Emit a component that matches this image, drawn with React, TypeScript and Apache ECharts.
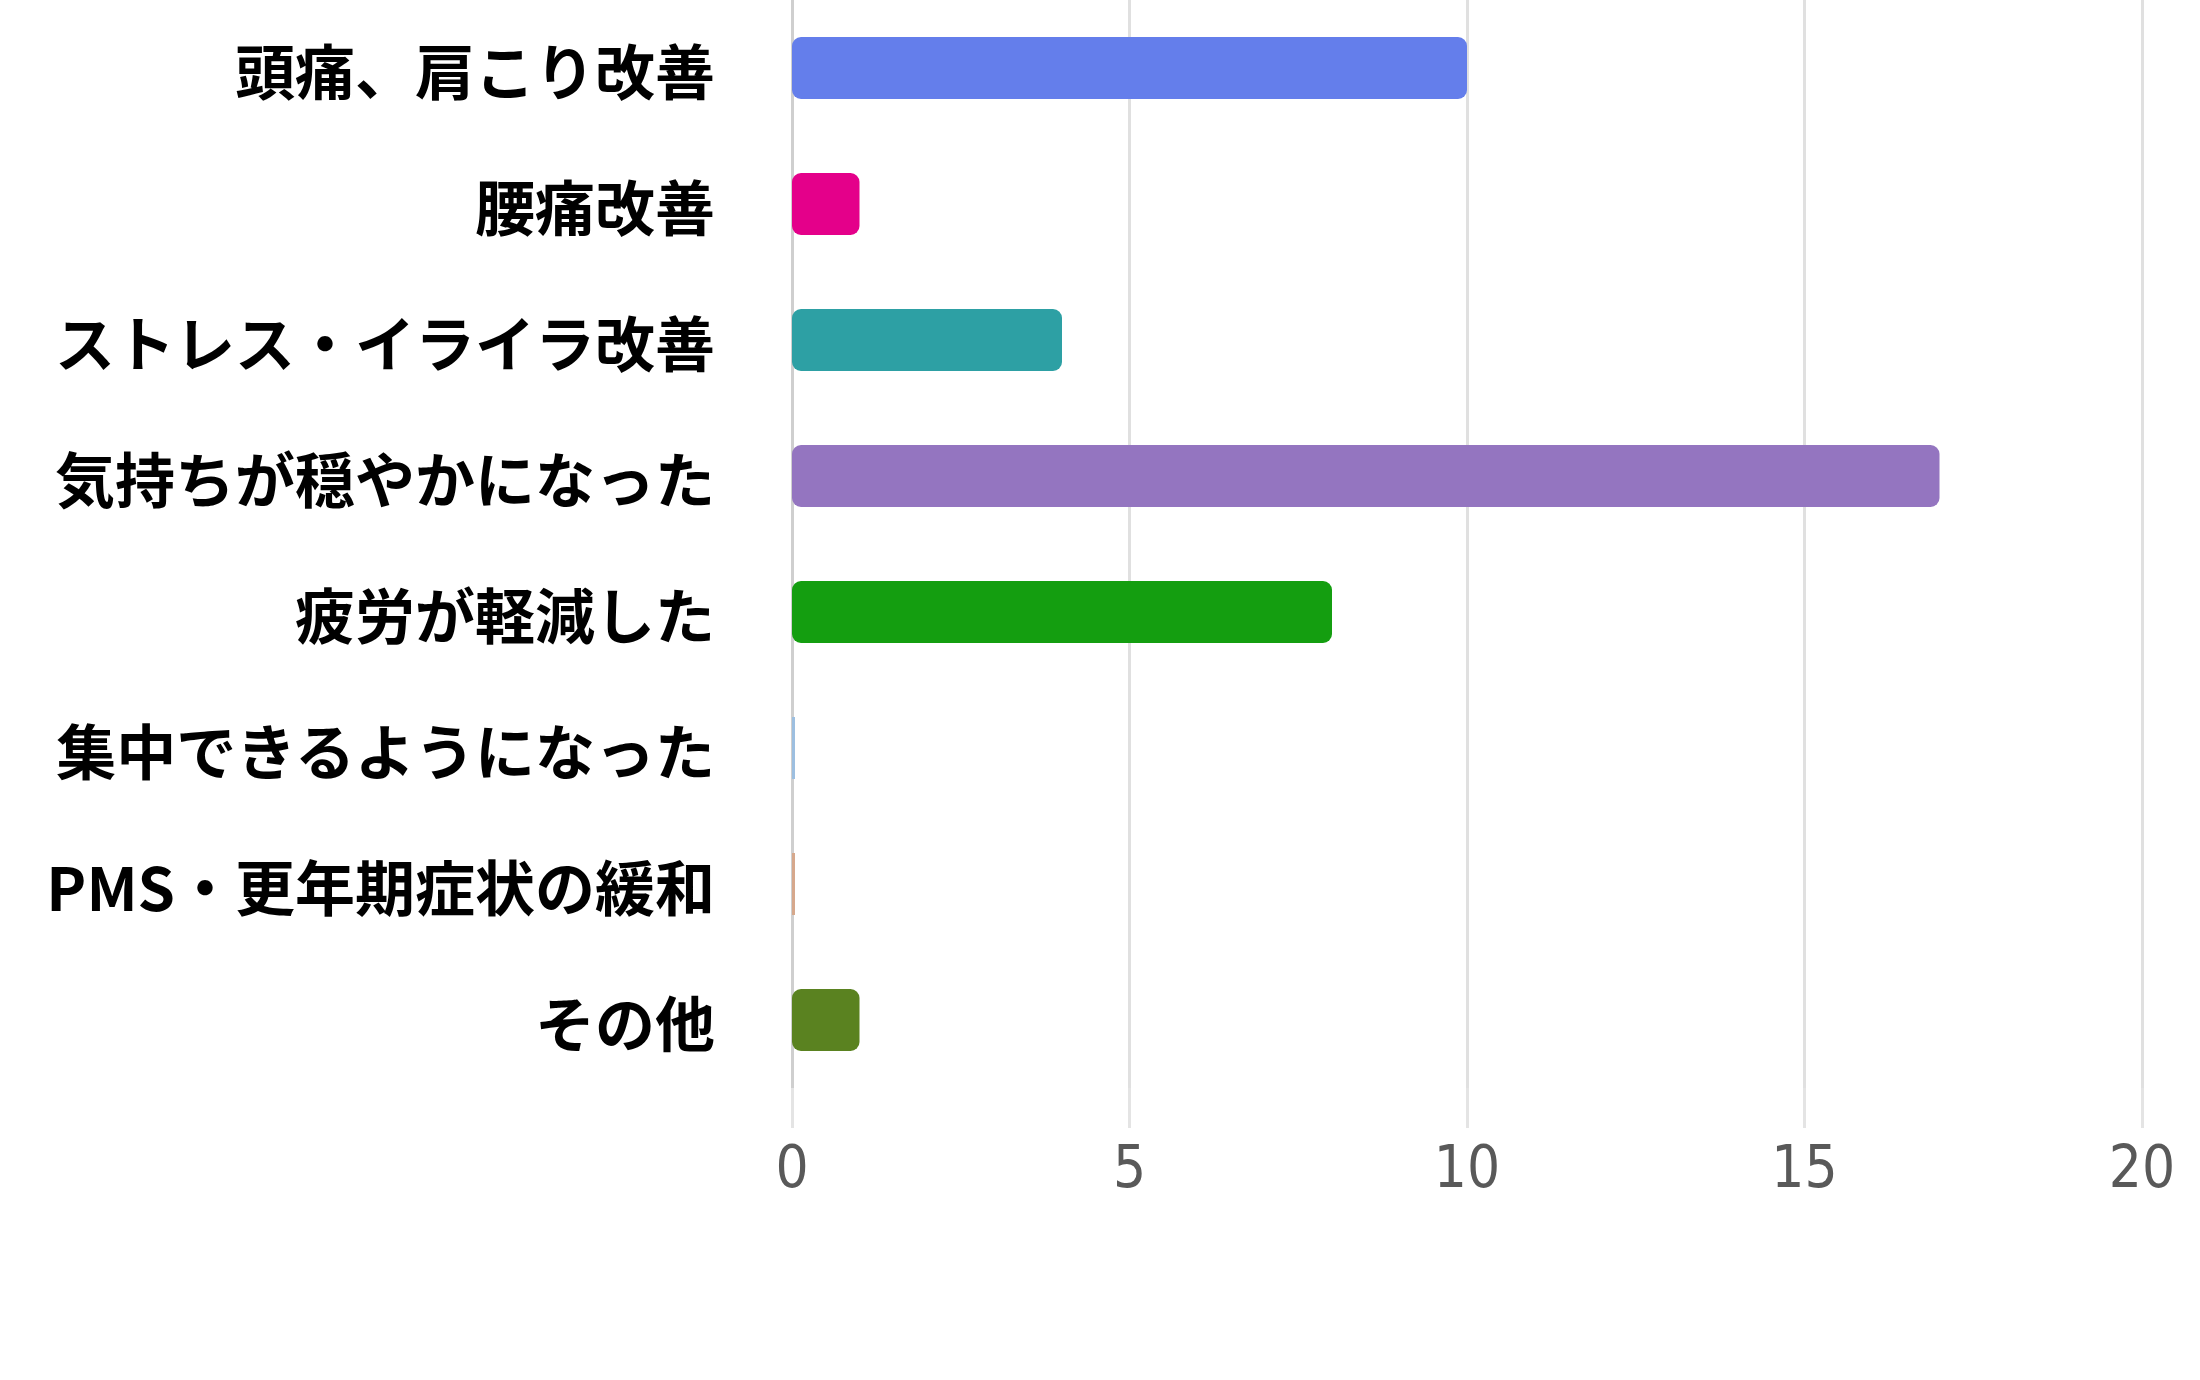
import { useEffect, useRef } from "react"
import * as echarts from "echarts"

// カテゴリ（上から順）
const categories = [
  "頭痛、肩こり改善",
  "腰痛改善",
  "ストレス・イライラ改善",
  "気持ちが穏やかになった",
  "疲労が軽減した",
  "集中できるようになった",
  "PMS・更年期症状の緩和",
  "その他",
]

// 回答数
const counts = [10, 1, 4, 17, 8, 0, 0, 1]

// 棒の色
const barColors = [
  "#647EEB",
  "#E4008A",
  "#2DA0A4",
  "#9475C0",
  "#149E10",
  "#9DBFE0",
  "#D6A88C",
  "#5A8220",
]

// 横軸の目盛り
const xTicks = [0, 5, 10, 15, 20]

const App = () => {
  const chartRef = useRef<HTMLDivElement>(null)

  useEffect(() => {
    if (!chartRef.current) return
    const chart = echarts.init(chartRef.current, undefined, { renderer: "svg" })

    const option = {
      animation: false,
      backgroundColor: "#ffffff",
      grid: {
        left: 792,
        right: 58,
        top: 0,
        height: 1088,
        containLabel: false,
      },
      xAxis: {
        type: "value",
        min: xTicks[0],
        max: xTicks[xTicks.length - 1],
        interval: 5,
        axisLine: { show: false },
        axisTick: {
          show: true,
          length: 40,
          lineStyle: { color: "#e4e4e4", width: 3 },
        },
        splitLine: {
          show: true,
          lineStyle: { color: "#e0e0e0", width: 3 },
        },
        axisLabel: {
          margin: 50,
          fontSize: 58,
          color: "#595959",
          fontFamily: "'Liberation Sans Narrow', 'DejaVu Sans Condensed', sans-serif",
        },
      },
      yAxis: {
        type: "category",
        inverse: true,
        data: categories,
        axisLine: { show: true, lineStyle: { color: "#cfcfcf", width: 3 } },
        axisTick: { show: false },
        splitLine: { show: false },
        axisLabel: {
          margin: 77,
          fontSize: 60,
          fontWeight: "bold",
          color: "#000000",
          fontFamily: "'Noto Sans CJK JP', sans-serif",
        },
      },
      series: [
        {
          type: "bar",
          barWidth: 62,
          barMinHeight: 3,
          data: counts.map((v, i) => ({
            value: v,
            itemStyle: {
              color: barColors[i],
              borderRadius: v > 0 ? 9 : 0,
            },
          })),
        },
      ],
    }

    chart.setOption(option)

    return () => {
      chart.dispose()
    }
  }, [])

  return (
    <div
      ref={chartRef}
      style={{ position: "absolute", left: 0, top: 0, width: 2200, height: 1380 }}
    />
  )
}

export default App
